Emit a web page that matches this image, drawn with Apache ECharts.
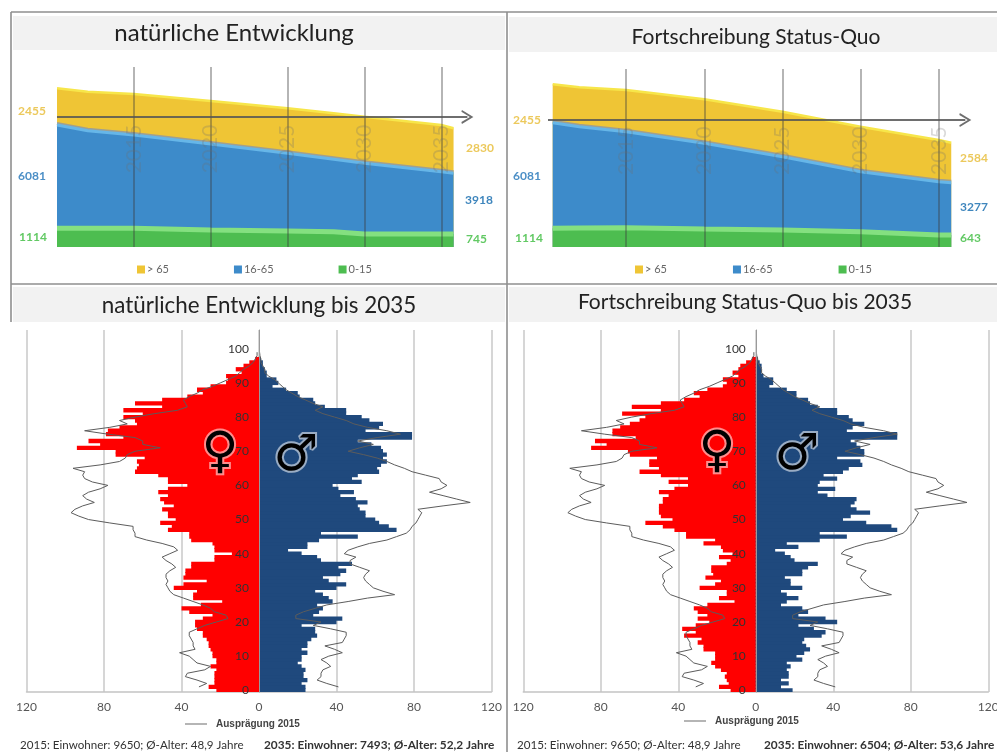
<!DOCTYPE html>
<html lang="de">
<head>
<meta charset="utf-8">
<title>Bevölkerungsentwicklung bis 2035</title>
<script src="https://cdn.jsdelivr.net/npm/echarts@6/dist/echarts.min.js"></script>
<style>
  html, body { margin: 0; padding: 0; background: #fff; }
  #chart { width: 997px; height: 752px; }
</style>
</head>
<body>
<div id="chart"></div>
<script>
// stacked areas, population per group
const naturalYears = [2010, 2012, 2015, 2020, 2025, 2028, 2030, 2035, 2035.8];
const naturalYoung = [1143, 1143, 1143, 1039, 978, 935, 795, 795, 795];
const naturalMiddle = [6314, 5966, 5703, 5257, 4749, 4425, 4321, 3808, 3710];
const naturalOld = [2243, 2384, 2506, 2628, 2751, 2812, 2849, 2854, 2750];

const statusYears = [2010.3, 2012, 2015, 2020, 2025, 2030, 2035, 2035.8];
const statusYoung = [1143, 1160, 1180, 1100, 1039, 935, 733, 733];
const statusMiddle = [6455, 6193, 5868, 5239, 4481, 3668, 3258, 3197];
const statusOld = [2347, 2409, 2549, 2689, 2750, 2750, 2549, 2445];

const markYears = [2015, 2020, 2025, 2030, 2035];
const groupNames = ["> 65", "16-65", "0-15"];
const naturalStart = [2455, 6081, 1114];
const naturalEnd = [2830, 3918, 745];
const statusStart = [2455, 6081, 1114];
const statusEnd = [2584, 3277, 643];

// pyramids, persons per age, index = age
const ages = [];
for (let a = 0; a <= 105; a++) ages.push(String(a));

const naturalFemale = [
  22, 26, 23, 23, 23, 23, 22, 25, 22, 22,
  24, 24, 25, 26, 26, 27, 29, 29, 32, 33,
  33, 29, 24, 36, 40, 30, 19, 34, 34, 32,
  44, 39, 27, 39, 38, 38, 35, 35, 23, 23,
  14, 23, 23, 24, 35, 36, 36, 47, 45, 51,
  43, 47, 47, 50, 44, 49, 51, 47, 52, 47,
  37, 47, 47, 52, 64, 63, 62, 63, 59, 74,
  74, 94, 82, 88, 70, 79, 78, 72, 63, 64,
  70, 60, 70, 50, 64, 50, 37, 29, 32, 25,
  17, 16, 17, 9, 12, 8, 5, 2];
const naturalMale = [
  24, 24, 22, 25, 23, 23, 24, 22, 20, 22,
  22, 25, 22, 25, 25, 27, 30, 29, 29, 22,
  40, 43, 28, 31, 33, 30, 38, 36, 33, 29,
  40, 45, 36, 33, 42, 45, 41, 48, 32, 30,
  22, 15, 25, 25, 31, 51, 32, 71, 67, 62,
  60, 55, 55, 52, 51, 56, 50, 42, 49, 41,
  38, 53, 48, 51, 62, 61, 63, 66, 64, 66,
  64, 63, 58, 51, 79, 79, 55, 62, 64, 57,
  53, 45, 45, 34, 29, 28, 21, 20, 14, 7,
  10, 9, 4, 4, 3, 2, 2, 1];
const statusFemale = [
  13, 19, 14, 15, 16, 15, 18, 21, 23, 21,
  21, 21, 27, 27, 30, 28, 37, 31, 38, 31,
  24, 30, 25, 30, 32, 25, 11, 19, 15, 15,
  29, 21, 18, 26, 22, 23, 23, 15, 13, 19,
  12, 17, 18, 27, 21, 36, 36, 42, 48, 57,
  43, 49, 50, 50, 50, 48, 48, 45, 50, 42,
  35, 45, 35, 49, 60, 50, 55, 55, 51, 65,
  66, 85, 77, 83, 62, 74, 74, 70, 65, 60,
  57, 69, 49, 64, 49, 37, 29, 32, 25, 17,
  15, 17, 9, 12, 9, 8, 5, 2];
const statusMale = [
  19, 13, 17, 13, 17, 17, 16, 18, 16, 24,
  21, 25, 28, 26, 24, 25, 34, 36, 30, 22,
  42, 36, 22, 27, 24, 13, 16, 22, 16, 13,
  24, 18, 18, 15, 24, 24, 27, 32, 20, 18,
  15, 10, 22, 16, 33, 47, 33, 73, 70, 57,
  45, 49, 59, 52, 49, 51, 52, 37, 32, 41,
  32, 33, 42, 35, 45, 48, 55, 54, 42, 56,
  56, 54, 52, 49, 73, 73, 47, 50, 56, 50,
  48, 42, 42, 32, 28, 27, 21, 21, 16, 7,
  9, 9, 4, 3, 3, 3, 2, 1];
// 2015 outline, same in both pyramids
const female2015 = [
  null, 31, 27, 32, 38, 37, 28, 25, 32, 34,
  36, 41, 33, 34, 34, 35, 36, 36, 32, 28,
  22, 16, 17, 23, 25, 29, 34, 39, 44, 46,
  47, 48, 47, 48, 48, 46, 43, 45, 48, 50,
  46, 42, 44, 50, 58, 64, 64, 65, 65, 77,
  88, 93, 97, 95, 91, 85, 89, 91, 88, 82,
  78, 86, 90, 91, 90, 96, 82, 72, 69, 68,
  64, 51, 60, 60, 64, 78, 90, 77, 68, 72,
  64, 54, 42, 37, 38, 39, 36, 32, 29, 24,
  20, 16, 12, 10, 8, 5, 3, 2, 1, 1];
const male2015 = [
  null, 41, 35, 30, 32, 32, 33, 37, 35, 32,
  36, 43, 39, 34, 43, 44, 45, 45, 37, 28,
  32, 19, 19, 23, 29, 35, 46, 56, 70, 64,
  59, 57, 55, 54, 55, 57, 52, 47, 47, 50,
  44, 46, 51, 57, 66, 71, 76, 78, 79, 81,
  82, 83, 84, 82, 95, 109, 102, 95, 88, 94,
  97, 94, 93, 86, 79, 75, 70, 66, 61, 54,
  46, 52, 59, 51, 61, 73, 66, 56, 49, 45,
  39, 33, 29, 33, 28, 24, 20, 17, 14, 12,
  10, 8, 5, 3, 3, 2, 1, 1, 0.5, 0.3];

const lineName = "Ausprägung 2015";
const YELLOW = "#efc535";
const BLUE = "#3d8bca";
const GREEN = "#4dbd50";
const UI_FONT = "Lato, sans-serif";
const CHEVRON = "path://M0 13 L6 0 L12 13 L10.4 13.6 L6 4 L1.6 13.6 Z";

// running totals so each band covers the one below it
function cumulative(years, ...layers) {
  return years.map((y, i) => [y, layers.reduce((sum, layer) => sum + layer[i], 0)]);
}

function stackedSeries(axisIndex, years, young, middle, old, arrowLevel, labelLevel) {
  const common = {
    type: "line",
    xAxisIndex: axisIndex,
    yAxisIndex: axisIndex,
    symbol: "none",
    silent: true,
    animation: false,
  };
  return [
    {
      ...common,
      name: groupNames[0],
      data: cumulative(years, young, middle, old),
      itemStyle: { color: YELLOW },
      lineStyle: { color: "#f7e64a", width: 2.5 },
      areaStyle: { color: YELLOW, opacity: 1 },
      z: 2,
    },
    {
      ...common,
      name: groupNames[1],
      data: cumulative(years, young, middle),
      itemStyle: { color: BLUE },
      lineStyle: {
        color: "#66b6e8",
        width: 3,
        shadowColor: "#a0a090",
        shadowBlur: 0,
        shadowOffsetY: -1.5,
      },
      areaStyle: { color: BLUE, opacity: 1 },
      z: 3,
    },
    {
      ...common,
      name: groupNames[2],
      data: cumulative(years, young),
      itemStyle: { color: GREEN },
      lineStyle: { color: "#84e080", width: 5 },
      areaStyle: { color: GREEN, opacity: 1 },
      z: 4,
      markLine: {
        silent: true,
        animation: false,
        label: { show: false },
        symbol: "none",
        lineStyle: { color: "rgba(60,60,60,0.5)", width: 1.5, type: "solid" },
        data: [
          ...markYears.map((y) => ({ xAxis: y })),
          [
            {
              coord: [2010, arrowLevel],
              symbol: "none",
              lineStyle: { color: "rgba(85,85,85,0.85)", width: 2, type: "solid" },
            },
            {
              coord: [2036.7, arrowLevel],
              symbol: CHEVRON,
              symbolSize: [14, 12],
              itemStyle: { color: "rgba(85,85,85,0.85)" },
              lineStyle: { color: "rgba(85,85,85,0.85)", width: 2, type: "solid" },
            },
          ],
        ],
      },
    },
    {
      // faint year captions that sit over the areas
      type: "scatter",
      xAxisIndex: axisIndex,
      yAxisIndex: axisIndex,
      silent: true,
      animation: false,
      symbolSize: 1,
      itemStyle: { color: "transparent" },
      z: 5,
      data: markYears.map((y) => [y, labelLevel]),
      label: {
        show: true,
        position: "inside",
        rotate: 90,
        offset: [8, 0],
        fontSize: 21,
        fontFamily: UI_FONT,
        color: "rgba(110,110,110,0.33)",
        formatter: (p) => String(p.value[0]),
      },
    },
  ];
}

function pyramidSeries(axisIndex, female, male) {
  const bar = {
    type: "bar",
    xAxisIndex: axisIndex,
    yAxisIndex: axisIndex,
    barGap: "-100%",
    barWidth: 4.3,
    silent: true,
    animation: false,
  };
  const outline = {
    type: "line",
    name: lineName,
    xAxisIndex: axisIndex,
    yAxisIndex: axisIndex,
    symbol: "none",
    silent: true,
    animation: false,
    z: 3,
    itemStyle: { color: "#6a6a6a" },
    lineStyle: { color: "#5c5c5c", width: 1 },
  };
  return [
    { ...bar, name: "Frauen", data: female.map((v) => -v), itemStyle: { color: "#ff0000" } },
    { ...bar, name: "Männer", data: male, itemStyle: { color: "#1f497d" } },
    { ...outline, data: female2015.map((v) => (v === null ? null : -v)) },
    { ...outline, data: male2015 },
  ];
}

function pyramidAxes(axisIndex) {
  return {
    x: {
      type: "value",
      gridIndex: axisIndex,
      min: -120,
      max: 120,
      interval: 40,
      axisLine: { show: true, onZero: false, lineStyle: { color: "#c4c4c4", width: 1.5 } },
      axisTick: { show: false },
      axisLabel: {
        color: "#555",
        fontSize: 12,
        fontFamily: UI_FONT,
        margin: 9,
        formatter: (v) => String(Math.abs(v)),
      },
      splitLine: { show: true, lineStyle: { color: "#c8c8c8", width: 1.5 } },
    },
    y: {
      type: "category",
      gridIndex: axisIndex,
      data: ages,
      z: 5,
      // half the grid width, so the age axis stands on the zero line
      offset: -232.5,
      axisLine: { show: true, onZero: false, lineStyle: { color: "#9a9a9a", width: 1 } },
      axisTick: { show: false },
      axisLabel: {
        interval: 9,
        color: "#333",
        fontSize: 12,
        fontFamily: UI_FONT,
        margin: 10,
      },
      splitLine: { show: false },
    },
  };
}

function areaAxes(axisIndex, yMax) {
  return {
    x: {
      type: "value",
      gridIndex: axisIndex,
      min: 2010,
      max: 2037,
      axisLine: { show: false },
      axisTick: { show: false },
      axisLabel: { show: false },
      splitLine: { show: false },
    },
    y: {
      type: "value",
      gridIndex: axisIndex,
      min: 0,
      max: yMax,
      axisLine: { show: false },
      axisTick: { show: false },
      axisLabel: { show: false },
      splitLine: { show: false },
    },
  };
}

function heading(text, cx, top, size) {
  return {
    text,
    left: cx,
    top,
    textAlign: "center",
    textStyle: { color: "#222", fontFamily: UI_FONT, fontWeight: "normal", fontSize: size },
  };
}

function note(text, x, y, bold) {
  return {
    type: "text",
    z: 20,
    style: {
      text,
      x,
      y,
      fill: "#333",
      font: (bold ? "bold 11.85px " : "11.6px ") + UI_FONT,
      textAlign: "left",
      textVerticalAlign: "middle",
    },
  };
}

function numberTag(value, x, y, color) {
  return {
    type: "text",
    z: 20,
    style: {
      text: String(value),
      x,
      y,
      fill: color,
      font: "bold 12px " + UI_FONT,
      textAlign: "left",
      textVerticalAlign: "middle",
    },
  };
}

function genderGlyph(text, x, y, size) {
  return {
    type: "text",
    z: 30,
    style: {
      text,
      x,
      y,
      fill: "#000",
      stroke: "rgba(255,255,255,0.55)",
      lineWidth: 4,
      strokeFirst: true,
      font: size + 'px "DejaVu Sans"',
      textAlign: "center",
      textVerticalAlign: "middle",
    },
  };
}

function band(x, y, w, h) {
  return { type: "rect", z: -2, silent: true, shape: { x, y, width: w, height: h }, style: { fill: "#f2f2f2" } };
}

function rule(x1, y1, x2, y2) {
  return {
    type: "line",
    z: -1,
    silent: true,
    shape: { x1, y1, x2, y2 },
    style: { stroke: "#8f8f8f", lineWidth: 1.6 },
  };
}

function groupLegend(left, gap) {
  return {
    left,
    top: 259,
    itemWidth: 8,
    itemHeight: 8,
    itemGap: gap,
    icon: "rect",
    selectedMode: false,
    data: groupNames,
    textStyle: { color: "#666", fontSize: 11, fontFamily: UI_FONT, padding: [0, 0, 0, -3] },
  };
}

function outlineLegend(left, top) {
  return {
    left,
    top,
    itemWidth: 22,
    itemHeight: 1,
    icon: "rect",
    selectedMode: false,
    data: [lineName],
    textStyle: {
      color: "#444",
      fontSize: 10,
      fontWeight: "bold",
      fontFamily: '"Liberation Sans", sans-serif',
      padding: [0, 0, 0, 4],
    },
  };
}

const PX_PER_PERSON = 180 / 11000;
const leftAreaAxes = areaAxes(0, 11000);
const rightAreaAxes = areaAxes(1, 178 / PX_PER_PERSON);
const leftPyramid = pyramidAxes(2);
const rightPyramid = pyramidAxes(3);

const chart = echarts.init(document.getElementById("chart"), null, { renderer: "canvas" });
chart.setOption({
  backgroundColor: "#fff",
  animation: false,
  title: [
    heading("natürliche Entwicklung", 229, 16, 24),
    heading("Fortschreibung Status-Quo", 751, 22, 21),
    heading("natürliche Entwicklung bis 2035", 254, 290, 22.4),
    heading("Fortschreibung Status-Quo bis 2035", 740, 287, 21),
  ],
  grid: [
    { left: 57, top: 67, width: 415, height: 180, outerBoundsMode: "none" },
    { left: 548, top: 69, width: 422, height: 178, outerBoundsMode: "none" },
    { left: 26.5, top: 330, width: 465, height: 362, outerBoundsMode: "none" },
    { left: 523.3, top: 330, width: 465, height: 362, outerBoundsMode: "none" },
  ],
  xAxis: [leftAreaAxes.x, rightAreaAxes.x, leftPyramid.x, rightPyramid.x],
  yAxis: [leftAreaAxes.y, rightAreaAxes.y, leftPyramid.y, rightPyramid.y],
  legend: [groupLegend(132, 65), groupLegend(630, 66), outlineLegend(180, 714), outlineLegend(679, 711)],
  series: [
    ...stackedSeries(0, naturalYears, naturalYoung, naturalMiddle, naturalOld, 7946, 5500),
    ...stackedSeries(1, statusYears, statusYoung, statusMiddle, statusOld, 7760, 5400),
    ...pyramidSeries(2, naturalFemale, naturalMale),
    ...pyramidSeries(3, statusFemale, statusMale),
  ],
  graphic: [
    band(13, 16, 492, 34),
    band(509, 17, 488, 35),
    band(13, 287, 492, 35),
    band(509, 287, 488, 35),
    rule(11, 12, 997, 12),
    rule(11, 12, 11, 322),
    rule(11, 284, 997, 284),
    rule(507, 12, 507, 752),

    numberTag(naturalStart[0], 18, 111, "#ecc95c"),
    numberTag(naturalStart[1], 18, 176, "#4c8fc6"),
    numberTag(naturalStart[2], 19, 237, "#62c964"),
    numberTag(naturalEnd[0], 466, 148, "#ecc95c"),
    numberTag(naturalEnd[1], 465, 200, "#3f86bd"),
    numberTag(naturalEnd[2], 466, 239, "#62c964"),
    numberTag(statusStart[0], 513, 120, "#ecc95c"),
    numberTag(statusStart[1], 513, 176, "#4c8fc6"),
    numberTag(statusStart[2], 515, 238, "#62c964"),
    numberTag(statusEnd[0], 960, 158, "#ecc95c"),
    numberTag(statusEnd[1], 960, 207, "#3f86bd"),
    numberTag(statusEnd[2], 960, 238, "#62c964"),

    genderGlyph("♀", 220, 454, 50),
    genderGlyph("♂", 296, 457, 50),
    genderGlyph("♀", 717, 453, 50),
    genderGlyph("♂", 797, 456, 50),

    note("2015: Einwohner: 9650; Ø-Alter: 48,9 Jahre", 20, 745, false),
    note("2035: Einwohner: 7493; Ø-Alter: 52,2 Jahre", 264, 745, true),
    note("2015: Einwohner: 9650; Ø-Alter: 48,9 Jahre", 517, 745, false),
    note("2035: Einwohner: 6504; Ø-Alter: 53,6 Jahre", 764, 745, true),
  ],
});

window.addEventListener("resize", () => chart.resize());
</script>
</body>
</html>
